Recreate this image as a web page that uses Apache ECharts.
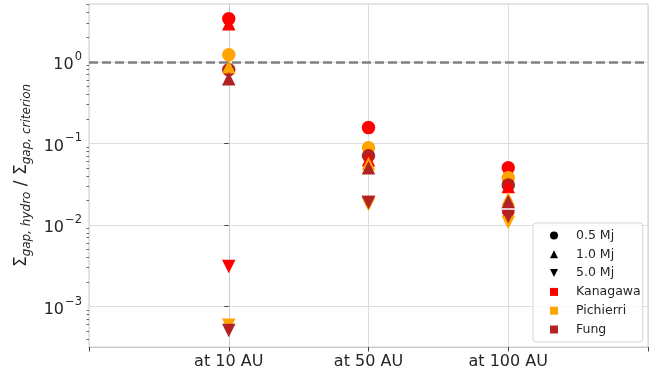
<!DOCTYPE html>
<html>
<head>
<meta charset="utf-8">
<script src="https://cdn.jsdelivr.net/npm/echarts@6/dist/echarts.min.js"></script>
<style>
  html, body { margin: 0; padding: 0; background: #fff; }
  #chart { width: 665px; height: 379px; }
</style>
</head>
<body>
<div id="chart"></div>
<script>
// ---- data ----
const categories = ['at 10 AU', 'at 50 AU', 'at 100 AU'];
const groups = ['Kanagawa', 'Pichierri', 'Fung'];
const masses = ['0.5 Mj', '1.0 Mj', '5.0 Mj'];
const groupColors = ['#ff0000', '#ffa500', '#b22222'];

const kanagawa05 = [3.36, 0.156, 0.0504];
const kanagawa10 = [2.92, 0.063, 0.0296];
const kanagawa50 = [0.0031, 0.0188, 0.012];
const pichierri05 = [1.22, 0.0886, 0.038];
const pichierri10 = [0.87, 0.0565, 0.021];
const pichierri50 = [0.00059, 0.0178, 0.0107];
const fung05 = [0.80, 0.0707, 0.031];
const fung10 = [0.62, 0.0504, 0.0194];
const fung50 = [0.00051, 0.0188, 0.0127];

const criterionLevel = 1;
const yMajorTicks = [0.001, 0.01, 0.1, 1];
const yMinorTicks = [4e-4, 5e-4, 6e-4, 7e-4, 8e-4, 9e-4,
  2e-3, 3e-3, 4e-3, 5e-3, 6e-3, 7e-3, 8e-3, 9e-3,
  2e-2, 3e-2, 4e-2, 5e-2, 6e-2, 7e-2, 8e-2, 9e-2,
  0.2, 0.3, 0.4, 0.5, 0.6, 0.7, 0.8, 0.9, 2, 3, 4, 5];

const valuesByMass = [
  [kanagawa05, pichierri05, fung05],
  [kanagawa10, pichierri10, fung10],
  [kanagawa50, pichierri50, fung50]
];
const massSymbols = ['circle', 'triangle', 'triangle'];
const massRotate = [0, 0, 180];
const legendMassIcons = ['circle', 'triangle', 'path://M0,0L10,0L5,10Z'];

// ---- build options ----
const textColor = '#262626';
const gridColor = '#dddddd';
const series = [];

series.push({
  name: 'criterion', type: 'line', data: [], z: 1, silent: true,
  markLine: {
    silent: true, symbol: 'none', label: { show: false },
    lineStyle: { color: '#808080', width: 2.5, type: [9, 4] },
    data: [{ yAxis: criterionLevel }]
  }
});

valuesByMass.forEach((arrs, mi) => {
  arrs.forEach((arr, gi) => {
    series.push({
      name: groups[gi] + ' ' + masses[mi],
      type: 'scatter', z: 3,
      symbol: massSymbols[mi], symbolRotate: massRotate[mi], symbolSize: 13.5,
      itemStyle: { color: groupColors[gi], opacity: 1 },
      data: arr.map((v, i) => [i, v])
    });
  });
});

// legend-only series
masses.forEach((m, mi) => {
  series.push({ name: m, type: 'scatter', data: [], symbol: massSymbols[mi],
    itemStyle: { color: '#000', opacity: 1 } });
});
groups.forEach((g, gi) => {
  series.push({ name: g, type: 'scatter', data: [], symbol: 'rect',
    itemStyle: { color: groupColors[gi], opacity: 1 } });
});

const legendData = masses.map((m, mi) => ({ name: m, icon: legendMassIcons[mi] }))
  .concat(groups.map(g => ({ name: g, icon: 'rect' })));

const option = {
  animation: false,
  backgroundColor: '#ffffff',
  grid: { left: 89, right: 17, top: 4, bottom: 32, show: true, borderColor: '#cccccc', borderWidth: 1 },
  legend: {
    orient: 'vertical', left: 533, top: 223,
    padding: [6, 2, 6, 17],
    itemWidth: 8, itemHeight: 8, itemGap: 5.8,
    backgroundColor: 'rgba(255,255,255,0.85)', borderColor: '#d6d6d6', borderWidth: 1, borderRadius: 3,
    textStyle: { fontFamily: 'DejaVu Sans', fontSize: 12.5, color: textColor, lineHeight: 12, padding: [0, 0, 0, 13] },
    data: legendData
  },
  xAxis: {
    type: 'value', min: -1, max: 3, interval: 1,
    axisLine: { show: true, lineStyle: { color: '#cccccc', width: 1 } },
    axisTick: { show: true, length: 4.5, lineStyle: { color: '#444444', width: 1 } },
    axisLabel: {
      margin: 7, fontFamily: 'DejaVu Sans', fontSize: 16, color: textColor,
      formatter: v => categories[v] || ''
    },
    splitLine: { show: true, lineStyle: { color: gridColor, width: 1 } }
  },
  yAxis: [{
    type: 'log', logBase: 10, min: 3.2e-4, max: 5.1,
    name: '{s|Σ}{sub|gap, hydro}{t| / }{s|Σ}{sub|gap, criterion}',
    nameLocation: 'middle', nameGap: 54,
    nameTextStyle: {
      color: textColor,
      rich: {
        s: { fontFamily: 'DejaVu Sans', fontSize: 17, color: textColor, lineHeight: 22 },
        t: { fontFamily: 'DejaVu Sans', fontSize: 17, color: textColor, lineHeight: 22 },
        sub: { fontFamily: 'DejaVu Sans', fontStyle: 'italic', fontSize: 12, color: textColor, verticalAlign: 'bottom', lineHeight: 14 }
      }
    },
    axisLine: { show: true, lineStyle: { color: '#cccccc', width: 1 } },
    axisTick: { show: true, length: 4.5, customValues: yMajorTicks, lineStyle: { color: '#444444', width: 1 } },
    axisLabel: {
      margin: 7, customValues: yMajorTicks,
      formatter: v => '{b|10}{e|' + String(Math.round(Math.log10(v))).replace('-', '−') + '}',
      rich: {
        b: { fontFamily: 'DejaVu Sans', fontSize: 16, color: textColor, lineHeight: 22, verticalAlign: 'bottom' },
        e: { fontFamily: 'DejaVu Sans', fontSize: 11.5, color: textColor, lineHeight: 22, verticalAlign: 'top', padding: [0, 0, 0, 1] }
      }
    },
    splitLine: { show: true, lineStyle: { color: gridColor, width: 1 } }
  }, {
    type: 'log', logBase: 10, min: 3.2e-4, max: 5.1, position: 'left',
    axisLine: { show: false },
    axisTick: { show: true, length: 2.5, customValues: yMinorTicks, lineStyle: { color: '#444444', width: 0.8 } },
    axisLabel: { show: false },
    splitLine: { show: false }
  }],
  series: series
};

const chart = echarts.init(document.getElementById('chart'), null, { renderer: 'canvas' });
chart.setOption(option);
</script>
</body>
</html>
